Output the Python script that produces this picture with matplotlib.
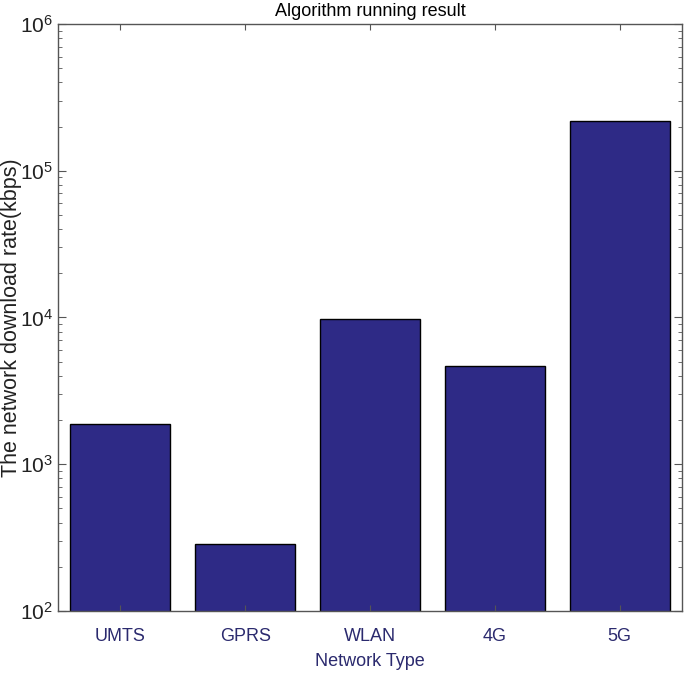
import matplotlib
matplotlib.use("Agg")
import matplotlib.pyplot as plt
from matplotlib.ticker import LogLocator, NullFormatter

plt.rcParams['font.family'] = ['Liberation Sans', 'DejaVu Sans']
plt.rcParams['mathtext.fontset'] = 'custom'
plt.rcParams['mathtext.rm'] = 'Liberation Sans'
plt.rcParams['mathtext.it'] = 'Liberation Sans:italic'

networks = ['UMTS', 'GPRS', 'WLAN', '4G', '5G']
rates = [1880, 286, 9800, 4680, 218000]

navy = '#2e2a86'
text_navy = '#2b2a6e'

fig = plt.figure(figsize=(6.85, 6.76), dpi=100)
ax = fig.add_axes([0.0847, 0.0962, 0.9109, 0.8683])

x = range(1, len(networks) + 1)
ax.bar(x, rates, width=0.8, color=navy, edgecolor='black', linewidth=1.0, bottom=0)
ax.set_yscale('log')
ax.set_ylim(1e2, 1e6)
ax.set_xlim(0.5, 5.5)

ax.set_xticks(list(x))
ax.set_xticklabels(networks, color=text_navy, fontsize=13)
ax.yaxis.set_major_locator(LogLocator(base=10, numticks=10))
ax.yaxis.set_minor_locator(LogLocator(base=10, subs=range(2, 10), numticks=20))
ax.yaxis.set_minor_formatter(NullFormatter())
ax.tick_params(axis='both', which='both', direction='in', top=True, right=True)
ax.tick_params(axis='y', which='major', length=6, labelsize=15, colors='#555555', labelcolor='#222222')
ax.tick_params(axis='y', which='minor', length=3, colors='#555555')
ax.tick_params(axis='x', which='major', length=4, colors='#555555', labelcolor=text_navy, pad=12)

for s in ax.spines.values():
    s.set_color('#555555')
    s.set_linewidth(1.0)

ax.set_title('Algorithm running result', fontsize=13, pad=6)
ax.set_xlabel('Network Type', color=text_navy, fontsize=13, labelpad=6)
ax.set_ylabel('The network download rate(kbps)', fontsize=15.5,
              color='#222222', va='center')
ax.yaxis.set_label_coords(-0.075, 0.5)

fig.savefig('out.png', dpi=100)
